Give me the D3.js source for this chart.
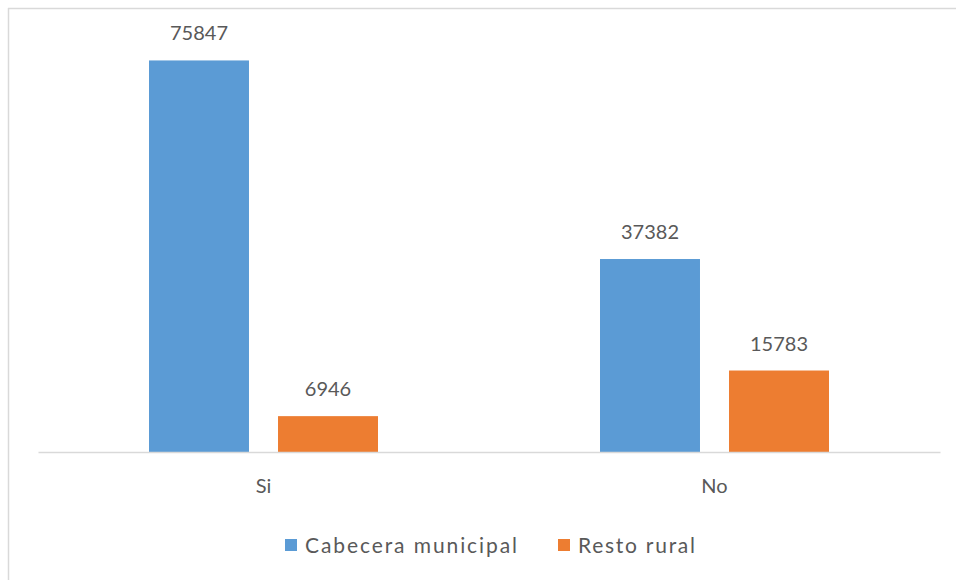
<!DOCTYPE html>
<html><head><meta charset="utf-8">
<script src="https://cdn.jsdelivr.net/npm/d3@7"></script>
<style>body{margin:0;background:#fff}svg{display:block}text{font-family:Lato,"Open Sans",sans-serif;fill:#595959}</style>
</head><body>
<script>
const categories = ["Si", "No"];
const seriesNames = ["Cabecera municipal", "Resto rural"];
const cabecera = [75847, 37382];
const resto = [6946, 15783];
const colors = ["#5b9bd5", "#ed7d31"];

const W = 956, H = 580;
const svg = d3.select("body").append("svg").attr("width", W).attr("height", H);

// chart border (left/top visible)
svg.append("line").attr("x1", 8.5).attr("x2", 8.5).attr("y1", 8).attr("y2", H).attr("stroke", "#d9d9d9").attr("stroke-width", 1.5);
svg.append("line").attr("x1", 8).attr("x2", W).attr("y1", 8.5).attr("y2", 8.5).attr("stroke", "#d9d9d9").attr("stroke-width", 1.5);

const plot = {left: 38, right: 940, top: 39, bottom: 452};
const x0 = d3.scaleBand().domain(categories).range([plot.left, plot.right]).paddingInner(0).paddingOuter(0);
const x1 = d3.scaleBand().domain(seriesNames).range([111, 340]).paddingInner(0.225);
const y = d3.scaleLinear().domain([0, 80000]).range([plot.bottom, plot.top]);

const data = categories.map((c, i) => ({cat: c, vals: [cabecera[i], resto[i]]}));

const g = svg.append("g");
const groups = g.selectAll("g.cat").data(data).join("g").attr("class", "cat")
  .attr("transform", d => `translate(${x0(d.cat)},0)`);

groups.selectAll("rect").data(d => d.vals.map((v, j) => ({v, s: seriesNames[j], j})))
  .join("rect")
  .attr("x", d => x1(d.s)).attr("width", x1.bandwidth())
  .attr("y", d => y(d.v)).attr("height", d => y(0) - y(d.v))
  .attr("fill", d => colors[d.j]);

groups.selectAll("text.lbl").data(d => d.vals.map((v, j) => ({v, s: seriesNames[j], j})))
  .join("text").attr("class", "lbl")
  .attr("x", d => x1(d.s) + x1.bandwidth() / 2).attr("y", d => y(d.v) - 20)
  .attr("text-anchor", "middle").attr("font-size", 20).text(d => d.v);

// axis
const xAxis = d3.axisBottom(x0).tickSize(0).tickPadding(27);
const ax = svg.append("g").attr("transform", `translate(0,${plot.bottom})`).call(xAxis);
ax.select(".domain").attr("stroke", "#d9d9d9").attr("stroke-width", 1.5);
ax.selectAll("text").attr("font-size", 20).style("font-family", "Lato, 'Open Sans', sans-serif").attr("fill", "#595959");

// legend
const legX = [285, 558];
const legW = [212, 117];
const leg = svg.append("g");
seriesNames.forEach((s, j) => {
  leg.append("rect").attr("x", legX[j]).attr("y", 539).attr("width", 12).attr("height", 12).attr("fill", colors[j]);
  leg.append("text").attr("x", legX[j] + 20).attr("y", 553).attr("font-size", 21)
    .attr("textLength", legW[j]).attr("lengthAdjust", "spacing").text(s);
});
</script>
</body></html>
